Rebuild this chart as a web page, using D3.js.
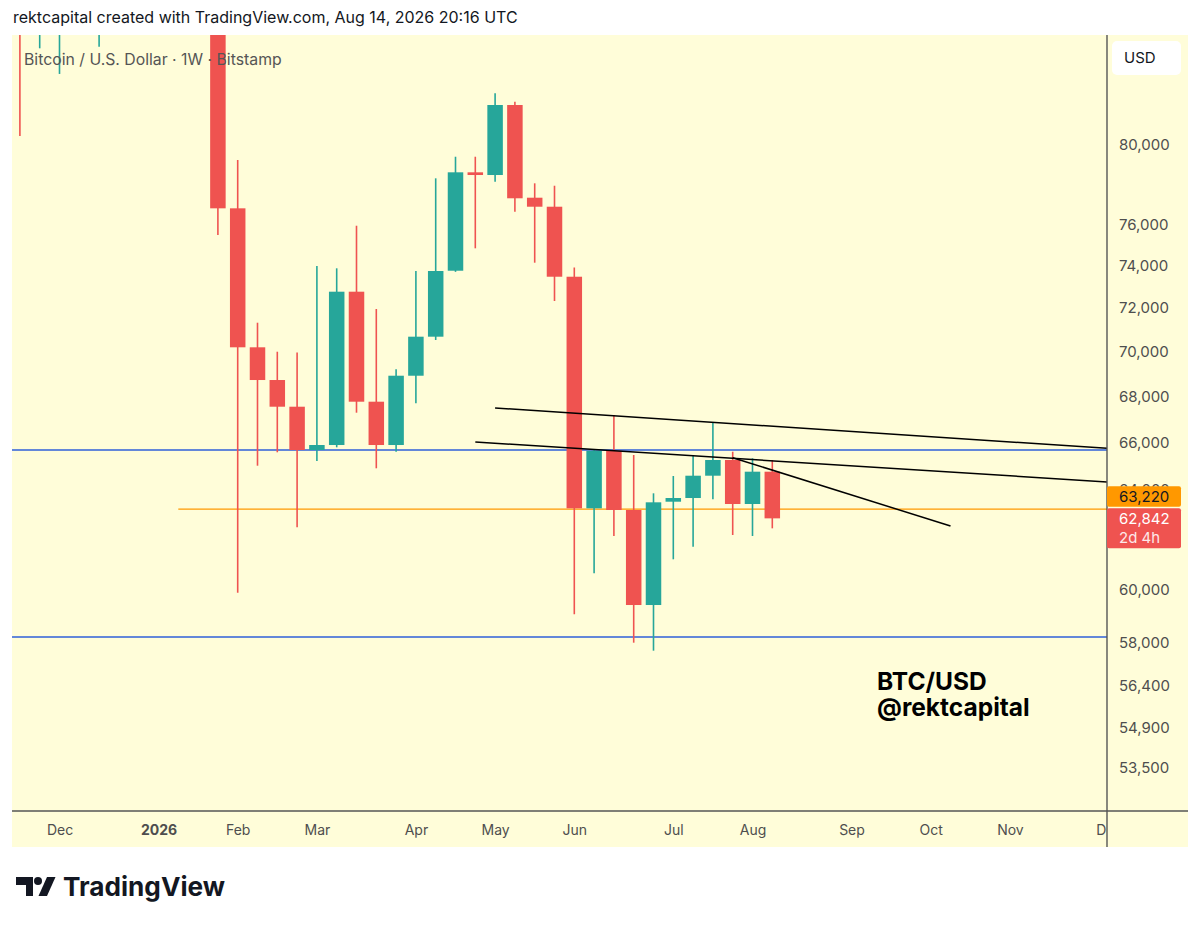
<!DOCTYPE html>
<html>
<head>
<meta charset="utf-8">
<title>BTC/USD 1W</title>
<style>
    body { margin: 0; background: #ffffff; }
    svg { display: block; font-family: Inter, "Noto Sans", "Liberation Sans", sans-serif; }
</style>
<script src="https://d3js.org/d3.v7.min.js"></script>
</head>
<body>
<svg width="1199" height="927"></svg>
<script>
// weekly candles (week start, Monday)
const weeks  = ["2025-11-17","2025-11-24","2025-12-01","2025-12-08","2025-12-15","2025-12-22","2025-12-29",
                "2026-01-05","2026-01-12","2026-01-19","2026-01-26","2026-02-02","2026-02-09","2026-02-16",
                "2026-02-23","2026-03-02","2026-03-09","2026-03-16","2026-03-23","2026-03-30","2026-04-06",
                "2026-04-13","2026-04-20","2026-04-27","2026-05-04","2026-05-11","2026-05-18","2026-05-25",
                "2026-06-01","2026-06-08","2026-06-15","2026-06-22","2026-06-29","2026-07-06","2026-07-13",
                "2026-07-20","2026-07-27","2026-08-03","2026-08-10"];
const opens  = [94000,86800,90400,90600,88200,88500,87800,90600,94500,93000,89000,76790,70191,68722,
                67546,65681,65894,72760,67765,65894,68913,70674,73754,78599,78462,82095,77319,76870,
                73468,63252,65652,63183,59418,63522,63674,64599,65258,63428,64767];
const highs  = [95900,93000,94100,94600,90400,90000,91000,94800,97900,93300,90400,79227,71316,69991,
                69950,73979,73869,75931,71950,69199,73740,78294,79395,79395,82718,82270,78042,77920,
                73907,65724,67185,65469,63868,64586,65469,66851,65609,65330,65258];
const lows   = [80466,85160,83760,87600,85250,86600,86900,89300,91800,87200,75476,59893,65018,65584,
                62480,65216,65796,67285,64909,65609,67695,70523,73700,74830,78122,76622,74137,72323,
                59062,60649,62130,57988,57689,61200,61701,63620,62170,62130,62438];
const closes = [86800,90400,90600,88200,88500,87800,90700,94500,93000,89000,76790,70191,68722,67546,
                65681,65894,72760,67765,65894,68913,70674,73740,78599,78462,82095,77290,76870,73468,
                63252,65652,63183,59418,63497,63674,64599,65258,63428,64767,62842];

// axis ticks
const priceTicks  = [80000,76000,74000,72000,70000,68000,66000,64000,60000,58000,56400,54900,53500];
const monthDates  = ["2025-12-01","2026-01-05","2026-02-02","2026-03-02","2026-04-06","2026-05-04","2026-06-01",
                     "2026-07-06","2026-08-03","2026-09-07","2026-10-05","2026-11-02","2026-12-07"];
const monthLabels = ["Dec","2026","Feb","Mar","Apr","May","Jun","Jul","Aug","Sep","Oct","Nov","Dec"];

// drawings
const blueLevels  = [65681, 58201];
const orangeLevel = { from: "2026-01-12", price: 63220 };
const trendLines  = [
    [["2026-05-04", 67490], ["2026-10-19", 66137], true],
    [["2026-04-27", 66022], ["2026-10-19", 64700], true],
    [["2026-07-27", 65356], ["2026-10-12", 62532], false]
];
const countdown = "2d 4h";
const noteLines = ["BTC/USD", "@rektcapital"];

const up = "#26a69a", down = "#ef5350";
const bg = "#fffdd9";

const svg = d3.select("svg");
const parse = d3.utcParse("%Y-%m-%d");

const L = 12, R = 1107, T = 35, B = 811, PR = 1188, PB = 847;

const x = d3.scaleUtc()
    .domain([parse("2025-12-01"), parse("2026-12-07")])
    .range([59.5, 1108.9]);
const y = d3.scaleLog()
    .domain([52009, 85896])
    .range([B, T]);

const candles = weeks.map((w, i) => ({
    date: parse(w), o: opens[i], h: highs[i], l: lows[i], c: closes[i]
}));

// background panel
svg.append("rect").attr("x", L).attr("y", T).attr("width", PR - L).attr("height", PB - T).attr("fill", bg);

const defs = svg.append("defs");
defs.append("clipPath").attr("id", "plot")
    .append("rect").attr("x", L).attr("y", T).attr("width", R - L).attr("height", B - T);
defs.append("clipPath").attr("id", "xaxis")
    .append("rect").attr("x", L).attr("y", B).attr("width", R - L).attr("height", PB - B);

const plot = svg.append("g").attr("clip-path", "url(#plot)");

// horizontal levels
plot.selectAll(".blue").data(blueLevels).join("line")
    .attr("x1", L).attr("x2", R)
    .attr("y1", d => y(d)).attr("y2", d => y(d))
    .attr("stroke", "#2f5fd8").attr("stroke-width", 1.3);

plot.append("line")
    .attr("x1", x(parse(orangeLevel.from))).attr("x2", R)
    .attr("y1", y(orangeLevel.price)).attr("y2", y(orangeLevel.price))
    .attr("stroke", "#ff9800").attr("stroke-width", 1.2);

// candles
const bw = 15.5;
plot.selectAll(".wick").data(candles).join("line")
    .attr("x1", d => x(d.date)).attr("x2", d => x(d.date))
    .attr("y1", d => y(d.h)).attr("y2", d => y(d.l))
    .attr("stroke", d => d.c >= d.o ? up : down)
    .attr("stroke-width", 1.6);

plot.selectAll(".body").data(candles).join("rect")
    .attr("x", d => x(d.date) - bw / 2)
    .attr("width", bw)
    .attr("y", d => y(Math.max(d.o, d.c)))
    .attr("height", d => Math.max(1.5, Math.abs(y(d.o) - y(d.c))))
    .attr("fill", d => d.c >= d.o ? up : down);

// trend lines
trendLines.forEach(([a, b, ext]) => {
    const x1 = x(parse(a[0])), y1 = y(a[1]);
    let x2 = x(parse(b[0])), y2 = y(b[1]);
    if (ext) {
        const k = (y2 - y1) / (x2 - x1);
        y2 = y1 + k * (R - x1);
        x2 = R;
    }
    plot.append("line")
        .attr("x1", x1).attr("y1", y1).attr("x2", x2).attr("y2", y2)
        .attr("stroke", "#000").attr("stroke-width", 1.5);
});

// x axis (clip on an untransformed wrapper so the last "Dec" is cut at the price scale)
const xAxis = svg.append("g")
    .attr("clip-path", "url(#xaxis)")
    .append("g")
    .attr("transform", `translate(0,${B})`)
    .call(d3.axisBottom(x)
        .tickValues(monthDates.map(parse))
        .tickFormat((d, i) => monthLabels[i])
        .tickSize(0)
        .tickPadding(14));
xAxis.select(".domain").remove();
xAxis.selectAll("text")
    .attr("font-family", "Inter, 'Noto Sans', sans-serif")
    .attr("font-size", 14)
    .attr("fill", "#4e4e4e")
    .attr("font-weight", (d, i) => monthLabels[i] === "2026" ? 700 : 400);

// y axis
const yAxis = svg.append("g")
    .attr("transform", `translate(${R},0)`)
    .call(d3.axisRight(y)
        .tickValues(priceTicks)
        .tickFormat(d3.format(","))
        .tickSize(0)
        .tickPadding(12));
yAxis.select(".domain").remove();
yAxis.selectAll("text")
    .attr("font-family", "Inter, 'Noto Sans', sans-serif")
    .attr("font-size", 15)
    .attr("fill", "#4e4e4e");

// axis borders
svg.append("line").attr("x1", L).attr("x2", PR).attr("y1", B).attr("y2", B)
    .attr("stroke", "#555").attr("stroke-width", 1.4);
svg.append("line").attr("x1", R).attr("x2", R).attr("y1", T).attr("y2", PB)
    .attr("stroke", "#555").attr("stroke-width", 1.4);

// price labels on the axis
const last = candles[candles.length - 1];
const redTop = y(last.c) - 10;
svg.append("rect").attr("x", R).attr("y", redTop).attr("width", 74).attr("height", 40)
    .attr("rx", 2).attr("fill", down);
svg.append("rect").attr("x", R).attr("y", redTop - 22).attr("width", 74).attr("height", 20.5)
    .attr("rx", 2).attr("fill", "#ff9800");

svg.append("text").attr("x", 1119).attr("y", redTop - 11.5).attr("dy", "0.35em")
    .attr("font-size", 15).attr("fill", "#131722").text(d3.format(",")(orangeLevel.price));
svg.append("text").attr("x", 1119).attr("y", redTop + 10).attr("dy", "0.35em")
    .attr("font-size", 15).attr("fill", "#ffffff").text(d3.format(",")(last.c));
svg.append("text").attr("x", 1119).attr("y", redTop + 29).attr("dy", "0.35em")
    .attr("font-size", 15).attr("fill", "#fde8e8").text(countdown);

// currency box
svg.append("rect").attr("x", 1112).attr("y", 41).attr("width", 69).attr("height", 34)
    .attr("rx", 5).attr("fill", "#ffffff");
svg.append("text").attr("x", 1124).attr("y", 58).attr("dy", "0.35em")
    .attr("font-size", 15).attr("fill", "#131722").text("USD");

// header + legend
svg.append("text").attr("x", 13).attr("y", 23)
    .attr("font-size", 16).attr("font-weight", 400).attr("fill", "#131722")
    .text("rektcapital created with TradingView.com, Aug 14, 2026 20:16 UTC");
svg.append("text").attr("x", 24).attr("y", 59).attr("dy", "0.35em")
    .attr("font-size", 15.8).attr("fill", "#555555")
    .text("Bitcoin / U.S. Dollar · 1W · Bitstamp");

// annotation (one text block, two lines)
svg.append("text")
    .attr("font-size", 24.5).attr("font-weight", 700).attr("fill", "#000")
    .selectAll("tspan").data(noteLines).join("tspan")
    .attr("x", 877)
    .attr("y", (d, i) => 690 + i * 26)
    .text(d => d);

// TradingView logo
const logo = svg.append("g").attr("fill", "#131722");
logo.append("path").attr("d", "M16,877 H33 V896 H26 V885 H16 Z");
logo.append("circle").attr("cx", 38).attr("cy", 881).attr("r", 4);
logo.append("path").attr("d", "M47,877 H55.5 L47,896 H38.5 Z");
logo.append("text").attr("x", 63).attr("y", 896)
    .attr("font-size", 26).attr("font-weight", 700)
    .attr("textLength", 162).attr("lengthAdjust", "spacingAndGlyphs")
    .text("TradingView");
</script>
</body>
</html>
